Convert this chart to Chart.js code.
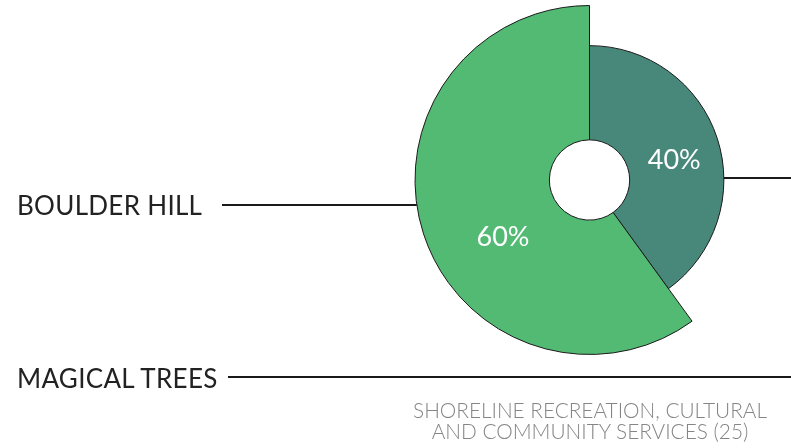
<!DOCTYPE html>
<html>
<head>
<meta charset="utf-8">
<script src="https://cdn.jsdelivr.net/npm/chart.js@4"></script>
<style>
  html, body { margin: 0; padding: 0; background: #fff; }
  #wrap { position: relative; width: 791px; height: 448px; overflow: hidden; }
  .lbl { position: absolute; left: 17px; font-family: Lato, sans-serif; font-size: 26px; letter-spacing: 0.3px; color: #222; white-space: nowrap; line-height: 1; }
  #caption { position: absolute; left: 390px; width: 400px; top: 399px; text-align: center; font-family: Lato, sans-serif; font-weight: 300; font-size: 20.8px; line-height: 21px; color: #858585; }
</style>
</head>
<body>
<div id="wrap">
  <canvas id="chart"></canvas>
  <div class="lbl" id="lbl0" style="top:192px">BOULDER HILL</div>
  <div class="lbl" id="lbl1" style="top:365px">MAGICAL TREES</div>
  <div id="caption">SHORELINE RECREATION, CULTURAL<br>AND COMMUNITY SERVICES (25)</div>
</div>
<script>
const categories = ['Magical Trees', 'Boulder Hill'];
const shares = [40, 60];
const percentLabels = ['40%', '60%'];
const caption = 'SHORELINE RECREATION, CULTURAL AND COMMUNITY SERVICES (25)';

// look only
const colors = ['#48887b', '#53ba73'];
const radiusScale = [0.77, 1];
const labelAnchor = [[0.53, 0.5], [0.43, 0.47]];

const varRadius = {
    id: 'varRadius',
    beforeDatasetsDraw(chart) {
        const meta = chart.getDatasetMeta(0);
        meta.data.forEach((arc, i) => {
            if (arc._full == null) arc._full = arc.outerRadius;
            arc.outerRadius = arc._full * radiusScale[i];
        });
    },
    afterDatasetsDraw(chart) {
        const ctx = chart.ctx;
        const meta = chart.getDatasetMeta(0);
        const teal = meta.data[0], green = meta.data[1];
        const cx = green.x, cy = green.y;

        ctx.save();
        ctx.strokeStyle = '#1a1a1a';
        ctx.lineWidth = 2;
        // line to the small slice
        let y = cy - 2;
        let x = cx + Math.sqrt(teal.outerRadius ** 2 - (y - cy) ** 2);
        ctx.beginPath(); ctx.moveTo(x, y); ctx.lineTo(chart.width, y); ctx.stroke();
        // line from Boulder Hill
        y = cy + 25;
        x = cx - Math.sqrt(green.outerRadius ** 2 - (y - cy) ** 2);
        ctx.beginPath(); ctx.moveTo(222, y); ctx.lineTo(x, y); ctx.stroke();
        // line from Magical Trees
        ctx.beginPath(); ctx.moveTo(228, 377); ctx.lineTo(chart.width, 377); ctx.stroke();

        // percent labels
        ctx.fillStyle = '#fff';
        ctx.font = '27px Lato, sans-serif';
        ctx.textAlign = 'center';
        ctx.textBaseline = 'middle';
        meta.data.forEach((arc, i) => {
            const a = arc.startAngle + (arc.endAngle - arc.startAngle) * labelAnchor[i][0];
            const r = arc.innerRadius + (arc.outerRadius - arc.innerRadius) * labelAnchor[i][1];
            ctx.fillText(percentLabels[i], arc.x + Math.cos(a) * r, arc.y + Math.sin(a) * r + 1);
        });
        ctx.restore();
    }
};

new Chart(document.getElementById('chart'), {
    type: 'doughnut',
    data: {
        labels: categories,
        datasets: [{
            data: shares,
            backgroundColor: colors,
            borderColor: '#1a1a1a',
            borderWidth: 1
        }]
    },
    options: {
        responsive: true,
        maintainAspectRatio: false,
        animation: false,
        cutout: '23%',
        layout: { padding: { left: 414, right: 26, top: 5, bottom: 93 } },
        plugins: { legend: { display: false }, tooltip: { enabled: false } }
    },
    plugins: [varRadius]
});
document.getElementById('chart').parentNode.style.height = '448px';
</script>
</body>
</html>
